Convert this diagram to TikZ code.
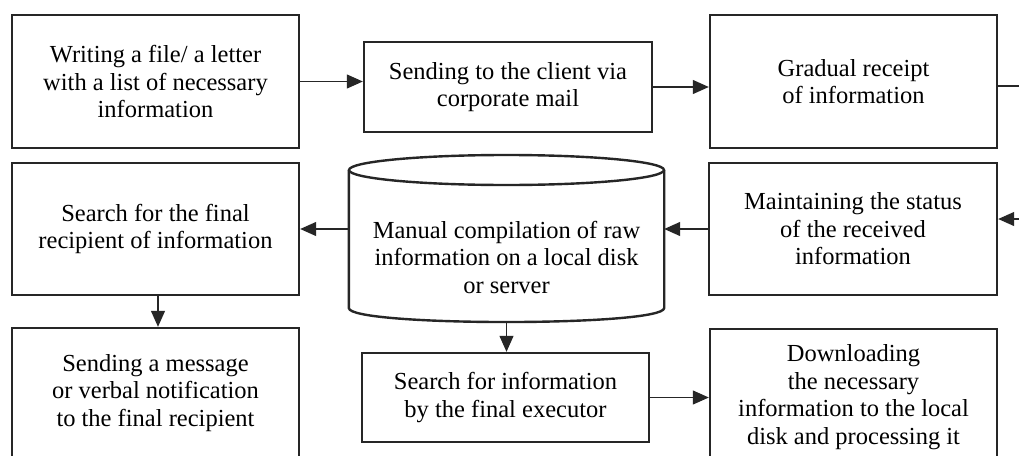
\documentclass[tikz,border=0pt]{standalone}
\usepackage{fontspec}
\setmainfont{Liberation Serif}
\usetikzlibrary{arrows.meta}
\begin{document}
\begin{tikzpicture}[x=1pt,y=-1pt,
  box/.style={draw=black!85, line width=2.4pt, rectangle, align=center, inner sep=0pt,
    font=\fontsize{24.5}{27.5}\selectfont},
  arr/.style={line width=1.2pt, draw=black!85, -{Triangle[length=16pt,width=14pt]}},
  ln/.style={line width=1.2pt, draw=black!85},
  txt/.style={align=center, inner sep=0pt, font=\fontsize{24.5}{27.5}\selectfont}]
\clip (0,0) rectangle (1019,455);
\fill[white] (0,0) rectangle (1019,455);
\node[box, minimum width=287pt, minimum height=133pt] (b1) at (155.5,81.5)
  {Writing a file/ a letter\\with a list of necessary\\information};
\node[box, minimum width=288pt, minimum height=90pt] (b2) at (508,87)
  {Sending to the client via\\corporate mail};
\node[box, minimum width=287pt, minimum height=133pt] (b3) at (853.5,81.5)
  {Gradual receipt\\of information};
\node[box, minimum width=288pt, minimum height=132pt] (b4) at (853,229)
  {Maintaining the status\\of the received\\information};
\node[box, minimum width=287pt, minimum height=132pt] (b5) at (155.5,229)
  {Search for the final\\recipient of information};
\node[box, minimum width=287pt, minimum height=130pt] (b6) at (155.5,393)
  {Sending a message\\or verbal notification\\to the final recipient};
\node[box, minimum width=287pt, minimum height=89pt] (b7) at (505.5,397.5)
  {Search for information\\by the final executor};
\node[box, minimum width=287pt, minimum height=136pt] (b8) at (853.5,397)
  {Downloading\\the necessary\\information to the local\\disk and processing it};
% cylinder
\node[minimum width=315pt, minimum height=167pt, inner sep=0pt] (cyl) at (506.5,238.5) {};
\draw[draw=black!85, line width=2.4pt]
  (cyl.west |- 0,170) -- (cyl.west |- 0,308)
  .. controls (349,326.7) and (664,326.7) .. (cyl.east |- 0,308)
  -- (cyl.east |- 0,170);
\draw[draw=black!85, line width=2.4pt] (506.5,170) ellipse [x radius=157.5pt, y radius=15pt];
\node[txt] (cyltxt) at (506.5,257)
  {Manual compilation of raw\\information on a local disk\\or server};
% connectors
\coordinate (r1) at (1030,86);
\coordinate (r2) at (1030,219);
\draw[arr] (b1.east) -- (b1.east -| b2.west);
\draw[arr] (b2.east) -- (b2.east -| b3.west);
\draw[ln] (b3.east |- r1) -- (r1);
\draw[arr] (r2) -- (b4.east |- r2);
\draw[arr] (b4.west) -- (b4.west -| cyl.east);
\draw[arr] (b5.east -| cyl.west) -- (b5.east);
\draw[arr] (b5.south -| 158,0) -- (b6.north -| 158,0);
\draw[arr] (cyl.south) -- (b7.north -| cyl.south);
\draw[arr] (b7.east) -- (b7.east -| b8.west);
\end{tikzpicture}
\end{document}
